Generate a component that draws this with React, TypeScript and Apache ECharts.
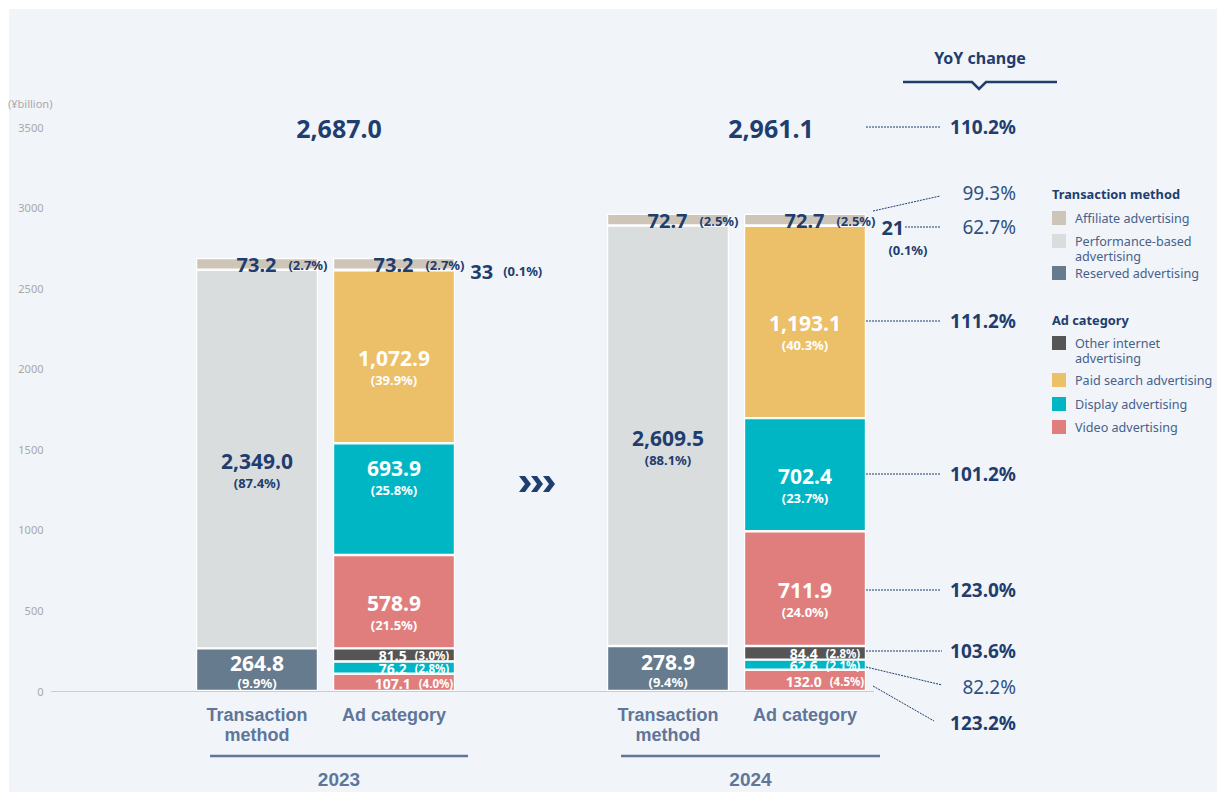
import React, { useEffect, useRef } from "react";
import * as echarts from "echarts";

// ---------- data ----------
const categories = ["", "Transaction\nmethod", "Ad category", "", "Transaction\nmethod", "Ad category"];
const years = ["2023", "2024"];
const totalLabels = ["2,687.0", "2,961.1"];

// Transaction method columns (index 1 = 2023, index 4 = 2024)
const reservedAdv = ["-", 264.8, "-", "-", 278.9, "-"];
const performanceAdv = ["-", 2349.0, "-", "-", 2609.5, "-"];
const affiliateTM = ["-", 73.2, "-", "-", 72.7, "-"];
// Ad category columns (index 2 = 2023, index 5 = 2024)
const videoReserved = ["-", "-", 107.1, "-", "-", 132.0];
const displayReserved = ["-", "-", 76.2, "-", "-", 62.6];
const otherReserved = ["-", "-", 81.5, "-", "-", 84.4];
const videoPerf = ["-", "-", 578.9, "-", "-", 711.9];
const displayPerf = ["-", "-", 693.9, "-", "-", 702.4];
const paidSearch = ["-", "-", 1072.9, "-", "-", 1193.1];
const otherPerf = ["-", "-", 3.3, "-", "-", 2.1];
const affiliateAC = ["-", "-", 73.2, "-", "-", 72.7];

// shares printed in labels
const reservedPct = ["", "9.9%", "", "", "9.4%", ""];
const performancePct = ["", "87.4%", "", "", "88.1%", ""];
const affiliateTMPct = ["", "2.7%", "", "", "2.5%", ""];
const videoReservedPct = ["", "", "4.0%", "", "", "4.5%"];
const displayReservedPct = ["", "", "2.8%", "", "", "2.1%"];
const otherReservedPct = ["", "", "3.0%", "", "", "2.8%"];
const videoPerfPct = ["", "", "21.5%", "", "", "24.0%"];
const displayPerfPct = ["", "", "25.8%", "", "", "23.7%"];
const paidSearchPct = ["", "", "39.9%", "", "", "40.3%"];
const otherPerfPct = ["", "", "0.1%", "", "", "0.1%"];
const otherPerfText = ["", "", "33", "", "", "21"];
const affiliateACPct = ["", "", "2.7%", "", "", "2.5%"];

const yoyValues = ["110.2%", "99.3%", "62.7%", "111.2%", "101.2%", "123.0%", "103.6%", "82.2%", "123.2%"];
const yoyBold = [true, false, false, true, true, true, true, false, true];

const legendTM = ["Affiliate advertising", "Performance-based\nadvertising", "Reserved advertising"];
const legendAC = ["Other internet\nadvertising", "Paid search advertising", "Display advertising", "Video advertising"];

// ---------- style ----------
const NAVY = "#1f3d6e";
const NAVY_LIGHT = "#2f5183";
const SLATE = "#5f7599";
const C_AFF = "#cdc6b8";
const C_PERF = "#d9dddd";
const C_RES = "#667b8d";
const C_OTHER = "#555555";
const C_PAID = "#ebc068";
const C_DISP = "#00b5c4";
const C_VIDEO = "#e07e7e";
const FONT = "'Noto Sans', sans-serif";

const fmt = (v: number) =>
  v.toLocaleString("en-US", { minimumFractionDigits: 1, maximumFractionDigits: 1 });

function items(values: any[], overrides: Record<number, any> = {}) {
  return values.map((v, i) => (v === "-" ? "-" : overrides[i] ? { value: v, label: overrides[i] } : v));
}

function bigLabel(pcts: string[], color: string, offsetY = 11, pLine = 20) {
  return {
    show: true,
    position: "inside",
    offset: [0, offsetY],
    formatter: (p: any) => `{v|${fmt(p.value)}}\n{p|(${pcts[p.dataIndex]})}`,
    rich: {
      v: { fontSize: 21, fontWeight: "bold", color, lineHeight: 24, fontFamily: FONT },
      p: { fontSize: 13, fontWeight: "bold", color, lineHeight: pLine, fontFamily: FONT },
    },
  };
}

function smallLabel(pcts: string[]) {
  return {
    show: true,
    position: "inside",
    offset: [20, 1],
    formatter: (p: any) => `{v|${fmt(p.value)}}{p|(${pcts[p.dataIndex]})}`,
    rich: {
      v: { fontSize: 14, fontWeight: "bold", color: "#fff", fontFamily: FONT, lineHeight: 12 },
      p: { fontSize: 11.5, fontWeight: "bold", color: "#fff", fontFamily: FONT, padding: [0, 0, 0, 8], lineHeight: 12 },
    },
  };
}

function topLabel(pcts: string[]) {
  return {
    show: true,
    position: "inside",
    offset: [25, 1],
    formatter: (p: any) => `{v|${fmt(p.value)}}{p|(${pcts[p.dataIndex]})}`,
    rich: {
      v: { fontSize: 20, fontWeight: "bold", color: NAVY, fontFamily: FONT },
      p: { fontSize: 13, fontWeight: "bold", color: NAVY, fontFamily: FONT, padding: [0, 0, 0, 12] },
    },
  };
}

function bar(name: string, data: any[], color: string, label: any) {
  return {
    name,
    type: "bar",
    stack: "total",
    barWidth: 122,
    data,
    itemStyle: { color, borderColor: "#ffffff", borderWidth: 1.2 },
    label,
    emphasis: { disabled: true },
  };
}

function buildGraphics() {
  const g: any[] = [];
  // y unit
  g.push({ type: "text", x: 8, y: 103, style: { text: "(¥billion)", fill: "#a8a8a8", fontSize: 11, fontFamily: FONT, verticalAlign: "middle" } });
  // totals
  const totalX = [339, 771];
  totalLabels.forEach((t, i) =>
    g.push({ type: "text", x: totalX[i], y: 128, style: { text: t, fill: NAVY, fontSize: 25, fontWeight: "bold", fontFamily: FONT, align: "center", verticalAlign: "middle" } })
  );
  // year brackets
  const yearLine = [[210, 468], [621, 880]];
  years.forEach((y, i) => {
    g.push({ type: "line", shape: { x1: yearLine[i][0], y1: 756, x2: yearLine[i][1], y2: 756 }, style: { stroke: SLATE, lineWidth: 2.5 } });
    g.push({ type: "text", x: (yearLine[i][0] + yearLine[i][1]) / 2, y: 779, style: { text: y, fill: SLATE, fontSize: 19, fontWeight: "bold", fontFamily: "'Liberation Sans', Arial, sans-serif", align: "center", verticalAlign: "middle" } });
  });
  // chevrons
  [519, 531, 543].forEach((x0) =>
    g.push({ type: "polygon", shape: { points: [[x0, 476], [x0 + 6, 476], [x0 + 12, 484], [x0 + 6, 492], [x0, 492], [x0 + 6, 484]] }, style: { fill: NAVY } })
  );
  // YoY header
  g.push({ type: "text", x: 980, y: 58, style: { text: "YoY change", fill: NAVY, fontSize: 16, fontWeight: "bold", fontFamily: FONT, align: "center", verticalAlign: "middle" } });
  g.push({ type: "polyline", shape: { points: [[903, 82], [972, 82], [979, 89], [986, 82], [1057, 82]] }, style: { stroke: NAVY, lineWidth: 2.5, fill: null } });
  // YoY entries: label y, connector
  const yoyY = [127, 193, 227, 321, 474, 590, 651, 687, 723];
  const yoyLines = [
    [866, 127, 940, 127],
    [873, 211, 940, 196],
    [905, 227, 940, 227],
    [866, 321, 940, 321],
    [866, 474, 940, 474],
    [866, 590, 940, 590],
    [866, 651, 942, 651],
    [866, 667, 942, 685],
    [873, 686, 934, 721],
  ];
  yoyValues.forEach((t, i) => {
    const l = yoyLines[i];
    g.push({ type: "line", shape: { x1: l[0], y1: l[1], x2: l[2], y2: l[3] }, style: { stroke: NAVY, lineWidth: 1, lineDash: [2, 1] } });
    g.push({
      type: "text",
      x: 1016,
      y: yoyY[i],
      style: { text: t, fill: yoyBold[i] ? NAVY : NAVY_LIGHT, fontSize: 19, fontWeight: yoyBold[i] ? "bold" : "normal", fontFamily: FONT, align: "right", verticalAlign: "middle" },
    });
  });
  // legend
  const lx = 1052;
  const legendText = (text: string, y: number) =>
    g.push({ type: "text", x: lx + 23, y, style: { text, fill: "#46618c", fontSize: 12.6, lineHeight: 15, fontFamily: FONT, verticalAlign: "middle" } });
  g.push({ type: "text", x: lx, y: 194, style: { text: "Transaction method", fill: NAVY, fontSize: 12.8, fontWeight: "bold", fontFamily: FONT, verticalAlign: "middle" } });
  const tmColors = [C_AFF, C_PERF, C_RES];
  const tmY = [218, 241, 273];
  legendTM.forEach((name, i) => {
    g.push({ type: "rect", shape: { x: lx, y: tmY[i] - 7, width: 14, height: 14 }, style: { fill: tmColors[i] } });
    legendText(name, name.includes("\n") ? tmY[i] + 7.5 : tmY[i]);
  });
  g.push({ type: "text", x: lx, y: 320, style: { text: "Ad category", fill: NAVY, fontSize: 12.8, fontWeight: "bold", fontFamily: FONT, verticalAlign: "middle" } });
  const acColors = [C_OTHER, C_PAID, C_DISP, C_VIDEO];
  const acY = [343, 380, 404, 427];
  legendAC.forEach((name, i) => {
    g.push({ type: "rect", shape: { x: lx, y: acY[i] - 7, width: 14, height: 14 }, style: { fill: acColors[i] } });
    legendText(name, name.includes("\n") ? acY[i] + 7.5 : acY[i]);
  });
  return g;
}

export default function App() {
  const ref = useRef<HTMLDivElement>(null);
  useEffect(() => {
    document.body.style.margin = "0";
    const chart = echarts.init(ref.current!, null, { renderer: "svg" });
    const otherPerfLabel = {
      show: true,
      position: "right",
      distance: 15,
      formatter: (p: any) =>
        p.dataIndex === 2
          ? `{v|${otherPerfText[p.dataIndex]}}{p|(${otherPerfPct[p.dataIndex]})}`
          : `{v|${otherPerfText[p.dataIndex]}}\n{q|(${otherPerfPct[p.dataIndex]})}`,
      rich: {
        v: { fontSize: 20, fontWeight: "bold", color: NAVY, fontFamily: FONT, lineHeight: 22 },
        p: { fontSize: 13, fontWeight: "bold", color: NAVY, fontFamily: FONT, padding: [0, 0, 0, 10] },
        q: { fontSize: 13, fontWeight: "bold", color: NAVY, fontFamily: FONT, padding: [0, 0, 0, 7], lineHeight: 22 },
      },
    };
    chart.setOption({
      animation: false,
      backgroundColor: "transparent",
      grid: { left: 51.5, right: 343.5, top: 127, bottom: 101 },
      xAxis: {
        type: "category",
        data: categories,
        axisLine: { lineStyle: { color: "#c9cdd2", width: 1 } },
        axisTick: { show: false },
        axisLabel: {
          color: SLATE,
          fontSize: 18,
          fontWeight: "bold",
          fontFamily: "'Liberation Sans', Arial, sans-serif",
          lineHeight: 20,
          margin: 14,
          interval: 0,
        },
      },
      yAxis: {
        type: "value",
        min: 0,
        max: 3500,
        interval: 500,
        axisLine: { show: false },
        axisTick: { show: false },
        splitLine: { show: false },
        axisLabel: { color: "#a8a8a8", fontSize: 11, fontFamily: FONT, margin: 8, formatter: (v: number) => String(v) },
      },
      series: [
        bar("Reserved advertising", items(reservedAdv), C_RES, bigLabel(reservedPct, "#ffffff", 1, 16)),
        bar("Performance-based advertising", items(performanceAdv), C_PERF, bigLabel(performancePct, NAVY, 12)),
        bar("Affiliate advertising", items(affiliateTM), C_AFF, topLabel(affiliateTMPct)),
        bar("Video advertising (reserved)", items(videoReserved), C_VIDEO, smallLabel(videoReservedPct)),
        bar("Display advertising (reserved)", items(displayReserved), C_DISP, smallLabel(displayReservedPct)),
        bar("Other internet advertising (reserved)", items(otherReserved), C_OTHER, smallLabel(otherReservedPct)),
        bar("Video advertising", items(videoPerf), C_VIDEO, bigLabel(videoPerfPct, "#ffffff", 11)),
        bar("Display advertising", items(displayPerf, { 2: { offset: [0, -21] } }), C_DISP, bigLabel(displayPerfPct, "#ffffff", 11)),
        bar("Paid search advertising", items(paidSearch), C_PAID, bigLabel(paidSearchPct, "#ffffff", 11)),
        bar("Other internet advertising", items(otherPerf, { 2: { offset: [0, 1] }, 5: { offset: [0, 13] } }), C_OTHER, otherPerfLabel),
        bar("Affiliate advertising (ad category)", items(affiliateAC), C_AFF, topLabel(affiliateACPct)),
      ],
      graphic: buildGraphics(),
    });
    return () => chart.dispose();
  }, []);
  return (
    <div style={{ position: "relative", width: 1217, height: 792, background: "#ffffff", overflow: "hidden" }}>
      <div style={{ position: "absolute", left: 9, top: 9, width: 1208, height: 783, background: "#f1f5f9" }} />
      <div ref={ref} style={{ position: "absolute", left: 0, top: 0, width: 1217, height: 792 }} />
    </div>
  );
}
